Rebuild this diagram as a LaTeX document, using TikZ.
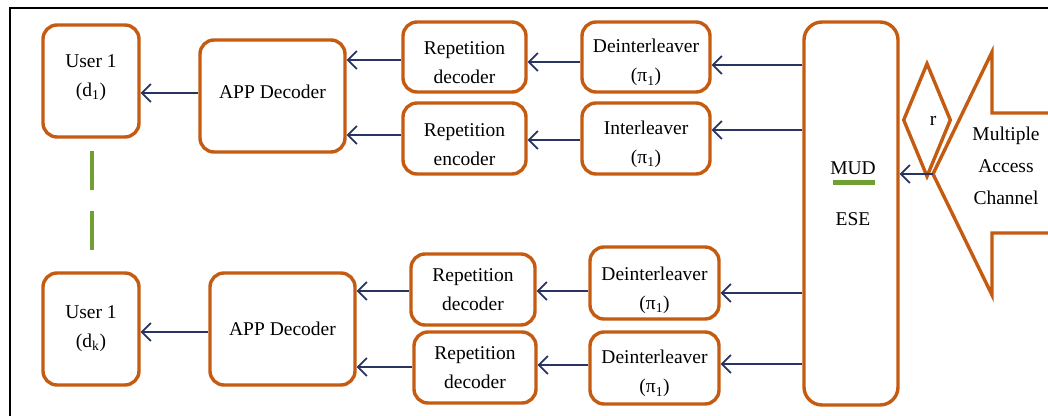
\documentclass[tikz,border=0pt]{standalone}
\usepackage{fontspec}
\setmainfont{Liberation Serif}
\usetikzlibrary{arrows.meta,shapes.geometric,calc}
\definecolor{boxorange}{RGB}{197,90,17}
\definecolor{connblue}{RGB}{40,52,98}
\definecolor{dashgreen}{RGB}{112,160,52}
\newcommand{\mydownA}{\rule{0pt}{25pt}}
\newcommand{\mydownB}{\rule{0pt}{28pt}}
\newcommand{\myupA}{\rule[-11pt]{0pt}{0pt}}
\begin{document}
\begin{tikzpicture}[x=1pt,y=-1pt,
  every node/.style={font=\fontsize{19.5}{29}\selectfont},
  blk/.style={draw=boxorange, line width=3.4pt, rounded corners=14pt, align=center, inner sep=0pt, fill=white},
  conn/.style={draw=connblue, line width=1.8pt, -{Straight Barb[length=9pt,width=18pt,line width=1.7pt]}},
  greenbar/.style={draw=dashgreen, line width=4.5pt}]
\useasboundingbox (0,0) rectangle (1048,415);
\clip (0,0) rectangle (1048,415);
% outer frame
\draw[line width=2.6pt] (10,8) rectangle (1070,440);
% top user branch
\node[blk, minimum width=96pt, minimum height=112pt] (u1) at (91,81) {User 1\\(d\textsubscript{1})\myupA};
\node[blk, minimum width=145pt, minimum height=112pt] (app1) at (272.5,96) {APP Decoder\rule[-8pt]{0pt}{0pt}};
\node[blk, minimum width=123pt, minimum height=70pt] (rd1) at (464.5,57) {\mydownA Repetition\\decoder};
\node[blk, minimum width=128pt, minimum height=70pt] (di1) at (646,57) {\mydownA Deinterleaver\\(π\textsubscript{1})};
\node[blk, minimum width=123pt, minimum height=71pt] (re1) at (464.5,138.5) {\mydownA Repetition\\encoder};
\node[blk, minimum width=128pt, minimum height=71pt] (il1) at (646,138.5) {\mydownA Interleaver\\(π\textsubscript{1})};
% MUD / ESE
\node[blk, rounded corners=18pt, minimum width=94pt, minimum height=383pt] (mud) at (851,213.5) {};
\node (mudt) at (853,168) {MUD};
\draw[greenbar] (833,182.5) -- (875,182.5);
\node (eset) at (853,219) {ESE};
% bottom user branch
\node[blk, minimum width=96pt, minimum height=112pt] (u2) at (91,329) {User 1\\(d\textsubscript{k})};
\node[blk, minimum width=145pt, minimum height=112pt] (app2) at (282.5,329) {APP Decoder};
\node[blk, minimum width=124pt, minimum height=71pt] (rd2) at (473,289.5) {Repetition\\decoder};
\node[blk, minimum width=129pt, minimum height=72pt] (di2) at (654.5,283) {\mydownB Deinterleaver\\(π\textsubscript{1})};
\node[blk, minimum width=122pt, minimum height=71pt] (rd3) at (475,367.5) {Repetition\\decoder};
\node[blk, minimum width=129pt, minimum height=72pt] (di3) at (654.5,368) {\mydownA Deinterleaver\\(π\textsubscript{1})};
% green dashes between users
\draw[greenbar] (92,151) -- (92,190);
\draw[greenbar] (92,211) -- (92,250);
% channel arrow shape
\draw[boxorange, line width=3.4pt, line join=miter, fill=white] (933,174) -- (992,52) -- (992,113) -- (1070,113) -- (1070,233) -- (992,233) -- (992,295) -- cycle;
\coordinate (tip) at (933,174);
\node[align=center, font=\fontsize{19.5}{32}\selectfont] (mac) at (1006,166) {Multiple\\Access\\Channel};
% diamond r
\node[diamond, draw=boxorange, line width=3.4pt, aspect=0.42, inner sep=0pt, minimum width=48pt, minimum height=114pt] (r) at (927,120) {};
\node (rt) at (933,121) {r};
% connectors top
\draw[conn] (app1.west |- 0,93) -- (u1.east |- 0,93);
\draw[conn] (rd1.west |- 0,60) -- (app1.east |- 0,60);
\draw[conn] (di1.west |- 0,62) -- (rd1.east |- 0,62);
\draw[conn] (mud.west |- 0,65) -- (di1.east |- 0,65);
\draw[conn] (re1.west |- 0,135) -- (app1.east |- 0,135);
\draw[conn] (il1.west |- 0,140) -- (re1.east |- 0,140);
\draw[conn] (mud.west |- 0,130) -- (il1.east |- 0,130);
% connectors bottom
\draw[conn] (app2.west |- 0,332) -- (u2.east |- 0,332);
\draw[conn] (rd2.west |- 0,291) -- (app2.east |- 0,291);
\draw[conn] (di2.west |- 0,291) -- (rd2.east |- 0,291);
\draw[conn] (mud.west |- 0,293) -- (di2.east |- 0,293);
\draw[conn] (rd3.west |- 0,367) -- (app2.east |- 0,367);
\draw[conn] (di3.west |- 0,365) -- (rd3.east |- 0,365);
\draw[conn] (mud.west |- 0,364) -- (di3.east |- 0,364);
% channel to MUD
\draw[conn] (tip) -- (mud.east |- tip);
\end{tikzpicture}
\end{document}
